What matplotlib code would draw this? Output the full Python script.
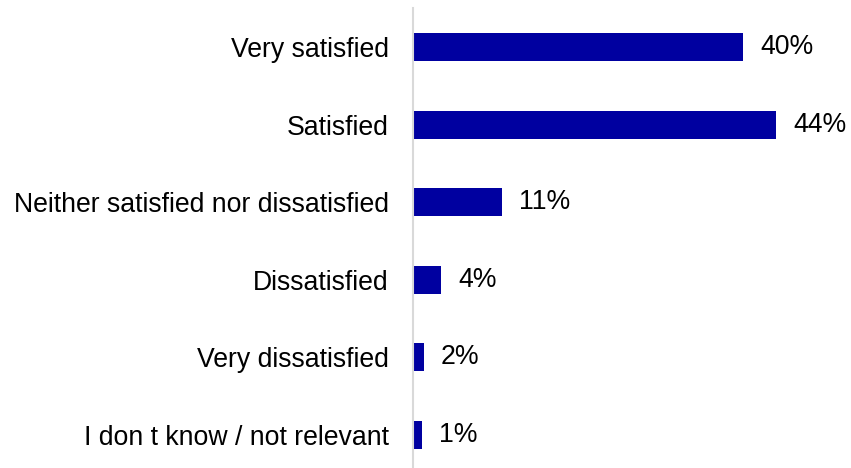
import matplotlib
matplotlib.use('Agg')
import matplotlib.pyplot as plt

# survey answers, top to bottom
categories = ['Very satisfied', 'Satisfied', 'Neither satisfied nor dissatisfied',
              'Dissatisfied', 'Very dissatisfied', 'I don t know / not relevant']
shares = [40, 44, 10.8, 3.5, 1.4, 1.1]
share_labels = ['40%', '44%', '11%', '4%', '2%', '1%']

bar_color = '#0000A0'

plt.rcParams['font.family'] = ['Liberation Sans', 'DejaVu Sans']

fig = plt.figure(figsize=(8.51, 4.68), dpi=100)
ax = fig.add_axes([412.5 / 851, 0, 1 - 412.5 / 851, 1 - 8.5 / 468])

pos = list(range(len(categories)))
ax.barh(pos, shares, height=0.36, color=bar_color)

for p, v, lab in zip(pos, shares, share_labels):
    ax.annotate(lab, (v, p), xytext=(17 * 0.72, 0), textcoords='offset points',
                ha='left', va='center', fontsize=19.2, color='#000000')

ax.set_ylim(5.43, -0.5)
ax.set_xlim(0, (851 - 412.5) / 8.27)

ax.set_yticks(pos)
ax.set_yticklabels(categories, fontsize=19.2)
ax.tick_params(axis='y', length=0, pad=17)
ax.set_xticks([])

for side in ['top', 'right', 'bottom']:
    ax.spines[side].set_visible(False)
ax.spines['left'].set_color('#D9D9D9')
ax.spines['left'].set_linewidth(1.5)

fig.savefig('out.png', dpi=100)
